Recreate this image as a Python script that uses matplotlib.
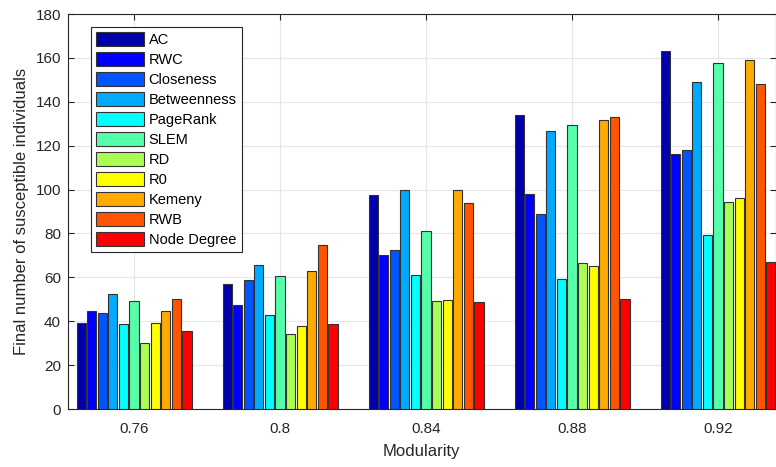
import numpy as np
import matplotlib
matplotlib.use("Agg")
import matplotlib.pyplot as plt

plt.rcParams['font.family'] = ['Liberation Sans', 'DejaVu Sans']

modularity = [0.76, 0.8, 0.84, 0.88, 0.92]
tick_labels = ["0.76", "0.8", "0.84", "0.88", "0.92"]
methods = ["AC", "RWC", "Closeness", "Betweenness", "PageRank", "SLEM",
           "RD", "R0", "Kemeny", "RWB", "Node Degree"]

# values, one list per method (order of modularity)
AC = [39.3, 57.1, 97.5, 133.8, 163.2]
RWC = [44.5, 47.5, 70.0, 98.0, 116.2]
Closeness = [43.7, 58.6, 72.5, 88.7, 117.9]
Betweenness = [52.3, 65.5, 99.8, 126.9, 148.9]
PageRank = [38.9, 43.0, 60.9, 59.1, 79.2]
SLEM = [49.4, 60.5, 81.3, 129.4, 157.7]
RD = [30.1, 34.2, 49.1, 66.7, 94.5]
R0 = [39.0, 37.8, 49.7, 65.3, 96.0]
Kemeny = [44.5, 62.8, 99.8, 131.7, 159.1]
RWB = [50.1, 74.7, 93.9, 132.9, 148.3]
NodeDegree = [35.4, 38.7, 48.6, 50.1, 67.1]
series = [AC, RWC, Closeness, Betweenness, PageRank, SLEM, RD, R0, Kemeny, RWB, NodeDegree]

colors = ["#0000aa", "#0000ff", "#0055ff", "#00aaff", "#00ffff", "#55ffaa",
          "#aaff55", "#ffff00", "#ffaa00", "#ff5500", "#ff0000"]

fig = plt.figure(figsize=(7.76, 4.67), dpi=100)
ax = fig.add_axes([0.0876, 0.124, 0.912, 0.846])

step = 0.0029
x = np.array(modularity)
for i, vals in enumerate(series):
    ax.bar(x + (i - 5) * step, vals, width=step * 0.86, color=colors[i],
           edgecolor="#333333", linewidth=0.8, label=methods[i], zorder=3)

ax.set_xlim(0.7419, 0.9358)
ax.set_ylim(0, 180)
ax.set_yticks(np.arange(0, 181, 20))
ax.set_xticks(modularity)
ax.set_xticklabels(tick_labels)
ax.grid(True, color="#e6e6e6", linewidth=0.8, zorder=0)
ax.set_axisbelow(True)
ax.tick_params(direction="in", labelsize=11, colors="#262626", length=4,
               top=True, right=True)
ax.tick_params(axis="x", pad=9)
ax.tick_params(axis="y", pad=5)
for s in ax.spines.values():
    s.set_color("#262626")
    s.set_linewidth(0.8)
ax.set_xlabel("Modularity", fontsize=12, color="#262626", labelpad=6)
ax.set_ylabel("Final number of susceptible individuals", fontsize=12,
              color="#262626", labelpad=5)

leg = ax.legend(loc="upper left", bbox_to_anchor=(0.0325, 0.967), fontsize=10.5,
                fancybox=False, framealpha=1, edgecolor="#262626",
                handlelength=3.3, handleheight=1.05, labelspacing=0.36,
                handletextpad=0.3, borderpad=0.35, borderaxespad=0)
leg.get_frame().set_linewidth(0.8)

fig.savefig("out.png", dpi=100)
